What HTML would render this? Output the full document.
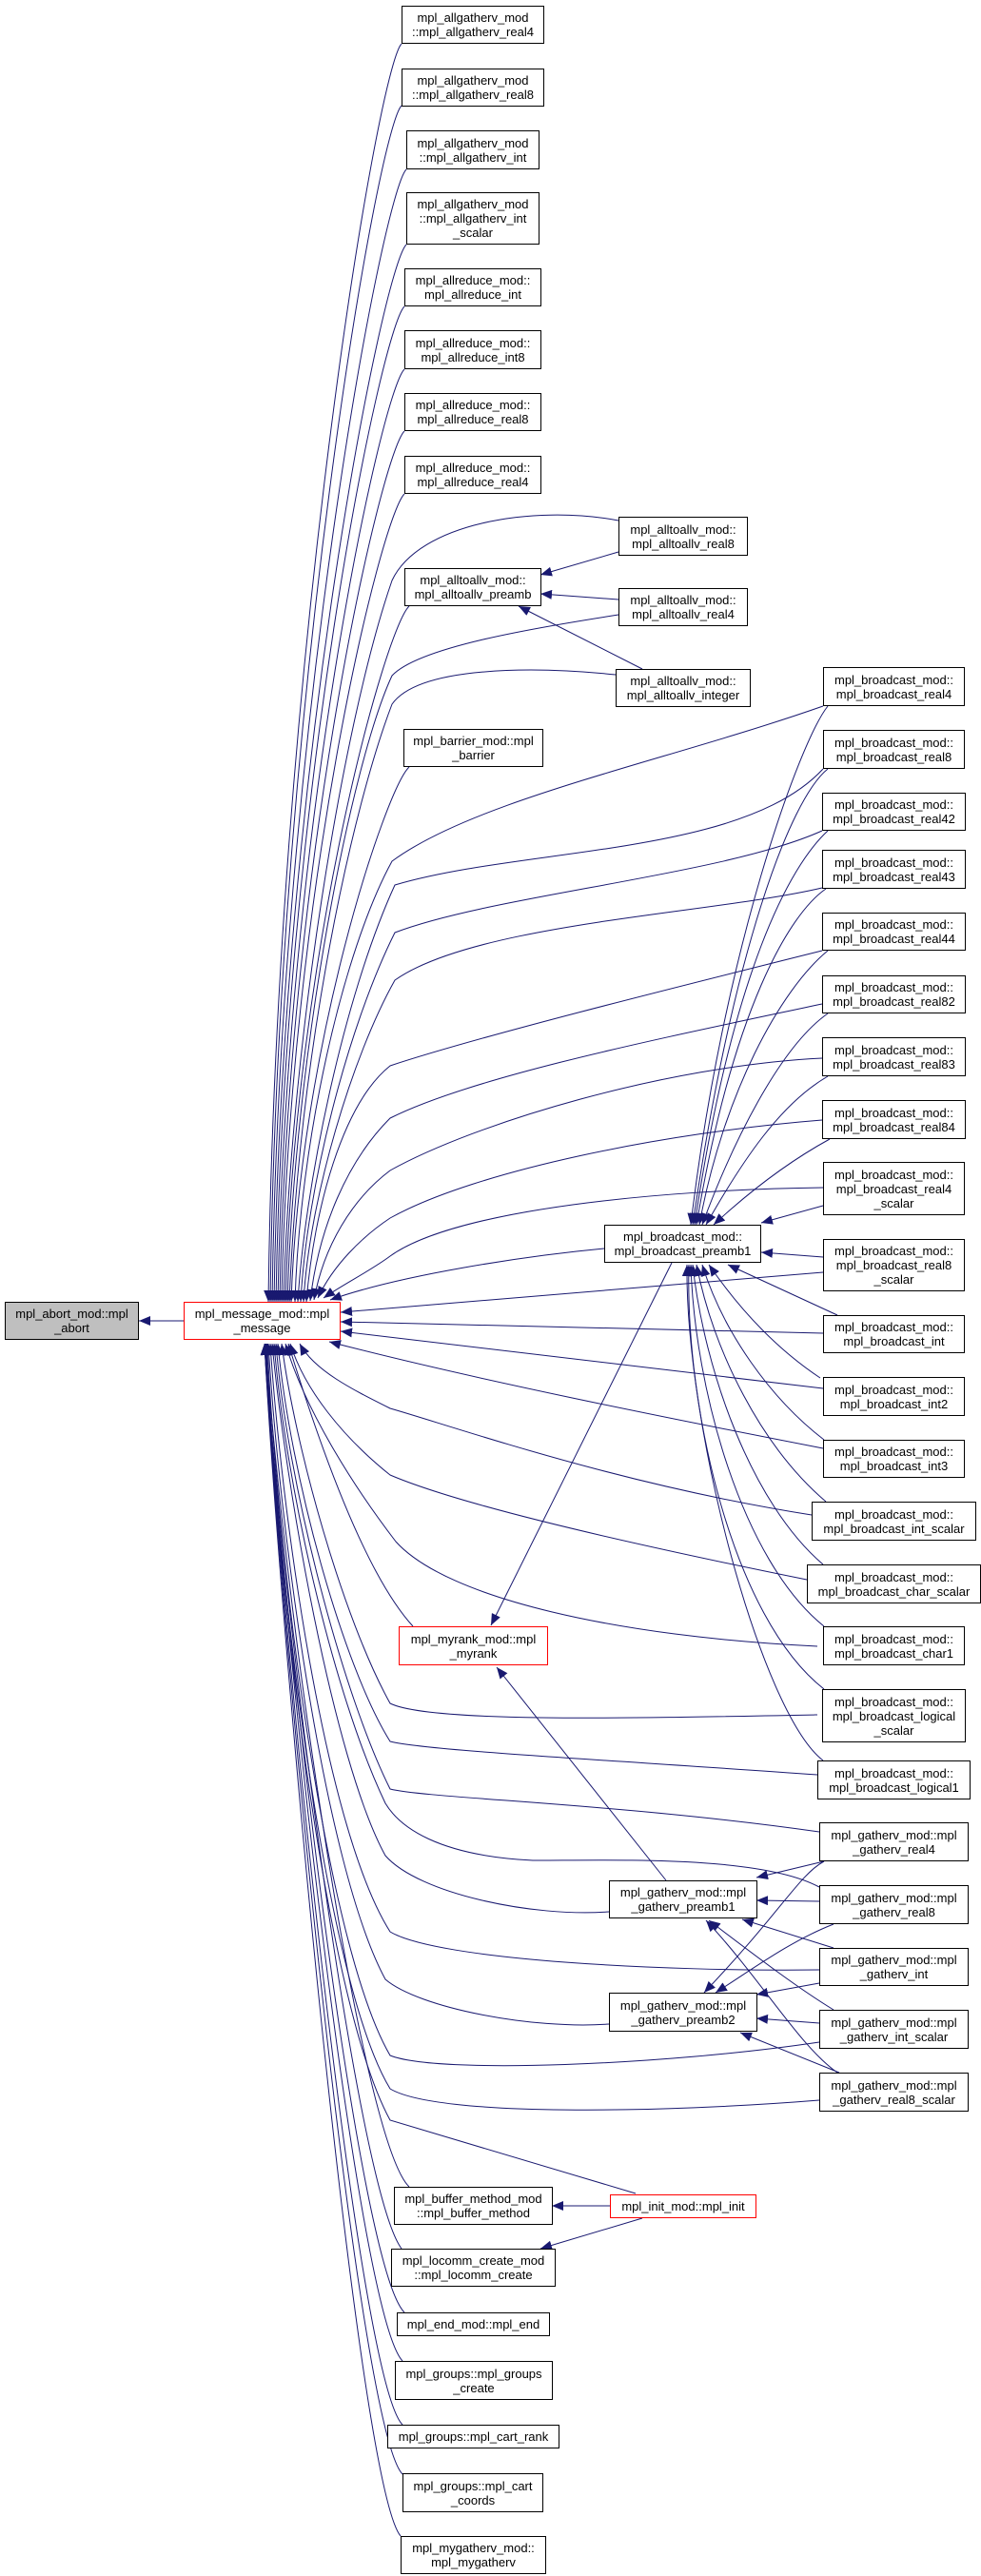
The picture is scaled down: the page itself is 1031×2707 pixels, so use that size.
<!DOCTYPE html>
<html><head><meta charset="utf-8"><style>
body{margin:0;background:#fff;width:1031px;height:2707px;position:relative;overflow:hidden;font-family:"Liberation Sans",Arial,sans-serif}
.n{position:absolute;box-sizing:border-box;border:1px solid #000;background:#fff;font-size:13px;line-height:15px;text-align:center;display:flex;align-items:center;justify-content:center;white-space:nowrap;color:#000}
.r{border-color:#f00}
svg{position:absolute;left:0;top:0}
</style></head><body>
<svg width="1031" height="2707" viewBox="0 0 1031 2707">
<defs><marker id="a" markerWidth="12" markerHeight="10" refX="12" refY="5" orient="auto" markerUnits="userSpaceOnUse"><path d="M0,0 L12,5 L0,10z" fill="#191970"/></marker></defs>
<g fill="none" stroke="#191970" stroke-width="1" marker-end="url(#a)">
<path d="M193,1388 L146,1388"/>
<path d="M422,46 C397,71 290,708 282,1368"/>
<path d="M422,111 C397,136 292,740 284,1368"/>
<path d="M427,178 C402,203 294,774 286,1368"/>
<path d="M427,257 C402,282 296,813 288,1368"/>
<path d="M425,322 C400,347 298,845 290,1368"/>
<path d="M425,388 C400,413 300,880 292,1368"/>
<path d="M425,453 C400,478 302,910 294,1368"/>
<path d="M425,519 C400,544 304,940 296,1368"/>
<path d="M650,547 C560,530 440,550 412,610 C360,760 305,1100 298,1368"/>
<path d="M430,637 C405,660 310,1000 300,1368"/>
<path d="M650,646 C560,660 440,680 412,710 C370,800 310,1100 302,1368"/>
<path d="M647,709 C560,700 440,700 412,740 C370,850 315,1100 304,1368"/>
<path d="M430,806 C405,830 315,1100 306,1368"/>
<path d="M865,742 C700,800 500,840 412,905 C360,1000 315,1200 310,1368"/>
<path d="M865,808 C780,900 550,890 415,930 C360,1050 320,1250 313,1368"/>
<path d="M864,873 C760,920 520,940 415,980 C365,1080 322,1250 316,1368"/>
<path d="M864,933 C750,960 500,970 415,1030 C370,1110 325,1260 319,1368"/>
<path d="M864,999 C700,1040 500,1090 410,1120 C360,1160 330,1270 322,1368"/>
<path d="M864,1055 C700,1090 500,1130 410,1175 C365,1220 335,1290 326,1367"/>
<path d="M864,1112 C700,1120 500,1180 410,1230 C370,1260 340,1310 330,1366"/>
<path d="M864,1177 C700,1190 500,1230 410,1280 C380,1300 350,1330 334,1364"/>
<path d="M865,1248 C700,1250 480,1270 410,1320 C390,1335 360,1350 340,1364"/>
<path d="M635,1312 C550,1320 420,1340 347,1366"/>
<path d="M865,1337 L358,1379"/>
<path d="M865,1401 L358,1389"/>
<path d="M865,1459 L358,1399"/>
<path d="M865,1522 C700,1490 500,1450 346,1410"/>
<path d="M853,1592 C650,1560 480,1500 410,1480 C370,1460 330,1440 315,1412"/>
<path d="M848,1660 C650,1620 480,1580 410,1550 C360,1510 320,1460 305,1412"/>
<path d="M859,1730 C650,1720 470,1680 416,1620 C370,1560 320,1480 300,1412"/>
<path d="M859,1802 C650,1806 450,1810 410,1790 C360,1700 310,1520 296,1412"/>
<path d="M859,1865 C650,1850 450,1840 410,1830 C360,1750 305,1550 292,1412"/>
<path d="M861,1925 C650,1895 450,1890 410,1880 C360,1780 302,1560 290,1412"/>
<path d="M861,1983 C800,1950 650,1955 560,1955 C460,1950 420,1920 405,1895 C350,1780 300,1560 288,1412"/>
<path d="M640,2009 C560,2015 440,1990 405,1950 C350,1850 300,1560 286,1412"/>
<path d="M861,2070 C700,2072 460,2060 410,2030 C340,1920 295,1580 284,1412"/>
<path d="M640,2127 C560,2133 440,2110 405,2080 C340,1960 293,1600 282,1412"/>
<path d="M861,2146 C700,2170 460,2180 410,2160 C340,2040 290,1620 281,1412"/>
<path d="M861,2207 C700,2220 460,2225 410,2195 C340,2080 290,1640 280,1412"/>
<path d="M668,2305 L410,2228 C340,2100 290,1650 279,1412"/>
<path d="M430,2298 C380,2250 300,1700 279,1412"/>
<path d="M422,2363 C375,2300 298,1700 278,1412"/>
<path d="M425,2430 C375,2380 297,1700 278,1412"/>
<path d="M423,2481 C375,2430 296,1700 278,1412"/>
<path d="M423,2548 C375,2500 295,1700 278,1412"/>
<path d="M423,2600 C375,2550 294,1700 278,1412"/>
<path d="M421,2665 C375,2610 293,1700 278,1412"/>
<path d="M434,1709 C380,1650 330,1500 303,1412"/>
<path d="M650,580 L568,604"/>
<path d="M650,630 L568,624"/>
<path d="M675,703 L545,637"/>
<path d="M870,742 C840,780 760,1000 726,1287"/>
<path d="M870,808 C830,840 770,1000 728,1287"/>
<path d="M870,873 C830,910 770,1020 730,1287"/>
<path d="M868,934 C830,960 770,1060 732,1287"/>
<path d="M870,999 C820,1040 760,1150 735,1287"/>
<path d="M870,1065 C820,1100 770,1200 738,1287"/>
<path d="M870,1131 C820,1160 780,1220 742,1287"/>
<path d="M872,1197 C830,1220 790,1250 750,1287"/>
<path d="M865,1267 L800,1285"/>
<path d="M865,1321 L800,1316"/>
<path d="M880,1382 L765,1329"/>
<path d="M862,1448 C820,1420 780,1380 745,1329"/>
<path d="M866,1513 C810,1470 760,1400 738,1329"/>
<path d="M868,1578 C800,1520 750,1420 732,1329"/>
<path d="M865,1644 C790,1580 740,1440 728,1329"/>
<path d="M866,1709 C780,1640 730,1460 726,1329"/>
<path d="M866,1775 C770,1700 720,1480 724,1329"/>
<path d="M865,1850 C800,1800 720,1500 722,1329"/>
<path d="M706,1327 L516,1708"/>
<path d="M700,1976 L522,1752"/>
<path d="M866,1956 L795,1973"/>
<path d="M861,1998 L795,1997"/>
<path d="M876,2047 L780,2017"/>
<path d="M876,2112 C840,2090 800,2060 745,2018"/>
<path d="M880,2178 C840,2150 800,2080 742,2018"/>
<path d="M866,1956 C840,1970 820,2010 740,2094"/>
<path d="M876,2022 C830,2040 790,2070 752,2094"/>
<path d="M861,2084 L795,2096"/>
<path d="M861,2126 L795,2121"/>
<path d="M882,2178 L778,2136"/>
<path d="M641,2318 L580,2318"/>
<path d="M675,2331 L568,2363"/>
</g>
</svg>
<div class="n" style="left:5px;top:1368px;width:141px;height:40px;background:#bfbfbf">mpl_abort_mod::mpl<br>_abort</div>
<div class="n r" style="left:193px;top:1368px;width:165px;height:40px">mpl_message_mod::mpl<br>_message</div>
<div class="n" style="left:422px;top:6px;width:150px;height:40px">mpl_allgatherv_mod<br>::mpl_allgatherv_real4</div>
<div class="n" style="left:422px;top:72px;width:150px;height:40px">mpl_allgatherv_mod<br>::mpl_allgatherv_real8</div>
<div class="n" style="left:427px;top:137px;width:140px;height:41px">mpl_allgatherv_mod<br>::mpl_allgatherv_int</div>
<div class="n" style="left:427px;top:202px;width:140px;height:55px">mpl_allgatherv_mod<br>::mpl_allgatherv_int<br>_scalar</div>
<div class="n" style="left:425px;top:282px;width:144px;height:40px">mpl_allreduce_mod::<br>mpl_allreduce_int</div>
<div class="n" style="left:425px;top:347px;width:144px;height:41px">mpl_allreduce_mod::<br>mpl_allreduce_int8</div>
<div class="n" style="left:425px;top:413px;width:144px;height:40px">mpl_allreduce_mod::<br>mpl_allreduce_real8</div>
<div class="n" style="left:425px;top:479px;width:144px;height:40px">mpl_allreduce_mod::<br>mpl_allreduce_real4</div>
<div class="n" style="left:650px;top:543px;width:136px;height:41px">mpl_alltoallv_mod::<br>mpl_alltoallv_real8</div>
<div class="n" style="left:425px;top:597px;width:144px;height:40px">mpl_alltoallv_mod::<br>mpl_alltoallv_preamb</div>
<div class="n" style="left:650px;top:618px;width:136px;height:40px">mpl_alltoallv_mod::<br>mpl_alltoallv_real4</div>
<div class="n" style="left:647px;top:703px;width:142px;height:40px">mpl_alltoallv_mod::<br>mpl_alltoallv_integer</div>
<div class="n" style="left:424px;top:766px;width:147px;height:40px">mpl_barrier_mod::mpl<br>_barrier</div>
<div class="n" style="left:865px;top:701px;width:149px;height:41px">mpl_broadcast_mod::<br>mpl_broadcast_real4</div>
<div class="n" style="left:865px;top:767px;width:149px;height:41px">mpl_broadcast_mod::<br>mpl_broadcast_real8</div>
<div class="n" style="left:864px;top:833px;width:151px;height:40px">mpl_broadcast_mod::<br>mpl_broadcast_real42</div>
<div class="n" style="left:864px;top:893px;width:151px;height:41px">mpl_broadcast_mod::<br>mpl_broadcast_real43</div>
<div class="n" style="left:864px;top:959px;width:151px;height:40px">mpl_broadcast_mod::<br>mpl_broadcast_real44</div>
<div class="n" style="left:864px;top:1025px;width:151px;height:40px">mpl_broadcast_mod::<br>mpl_broadcast_real82</div>
<div class="n" style="left:864px;top:1090px;width:151px;height:41px">mpl_broadcast_mod::<br>mpl_broadcast_real83</div>
<div class="n" style="left:864px;top:1156px;width:151px;height:41px">mpl_broadcast_mod::<br>mpl_broadcast_real84</div>
<div class="n" style="left:865px;top:1221px;width:149px;height:56px">mpl_broadcast_mod::<br>mpl_broadcast_real4<br>_scalar</div>
<div class="n" style="left:635px;top:1287px;width:165px;height:40px">mpl_broadcast_mod::<br>mpl_broadcast_preamb1</div>
<div class="n" style="left:865px;top:1302px;width:149px;height:55px">mpl_broadcast_mod::<br>mpl_broadcast_real8<br>_scalar</div>
<div class="n" style="left:865px;top:1382px;width:149px;height:40px">mpl_broadcast_mod::<br>mpl_broadcast_int</div>
<div class="n" style="left:865px;top:1447px;width:149px;height:41px">mpl_broadcast_mod::<br>mpl_broadcast_int2</div>
<div class="n" style="left:865px;top:1513px;width:149px;height:40px">mpl_broadcast_mod::<br>mpl_broadcast_int3</div>
<div class="n" style="left:853px;top:1578px;width:173px;height:41px">mpl_broadcast_mod::<br>mpl_broadcast_int_scalar</div>
<div class="n" style="left:848px;top:1644px;width:183px;height:41px">mpl_broadcast_mod::<br>mpl_broadcast_char_scalar</div>
<div class="n" style="left:865px;top:1709px;width:149px;height:41px">mpl_broadcast_mod::<br>mpl_broadcast_char1</div>
<div class="n" style="left:864px;top:1775px;width:151px;height:56px">mpl_broadcast_mod::<br>mpl_broadcast_logical<br>_scalar</div>
<div class="n" style="left:859px;top:1850px;width:161px;height:41px">mpl_broadcast_mod::<br>mpl_broadcast_logical1</div>
<div class="n r" style="left:419px;top:1709px;width:157px;height:41px">mpl_myrank_mod::mpl<br>_myrank</div>
<div class="n" style="left:861px;top:1915px;width:157px;height:41px">mpl_gatherv_mod::mpl<br>_gatherv_real4</div>
<div class="n" style="left:640px;top:1976px;width:156px;height:40px">mpl_gatherv_mod::mpl<br>_gatherv_preamb1</div>
<div class="n" style="left:861px;top:1981px;width:157px;height:41px">mpl_gatherv_mod::mpl<br>_gatherv_real8</div>
<div class="n" style="left:861px;top:2047px;width:157px;height:40px">mpl_gatherv_mod::mpl<br>_gatherv_int</div>
<div class="n" style="left:640px;top:2094px;width:156px;height:41px">mpl_gatherv_mod::mpl<br>_gatherv_preamb2</div>
<div class="n" style="left:861px;top:2112px;width:157px;height:41px">mpl_gatherv_mod::mpl<br>_gatherv_int_scalar</div>
<div class="n" style="left:861px;top:2178px;width:157px;height:41px">mpl_gatherv_mod::mpl<br>_gatherv_real8_scalar</div>
<div class="n" style="left:414px;top:2298px;width:167px;height:40px">mpl_buffer_method_mod<br>::mpl_buffer_method</div>
<div class="n r" style="left:641px;top:2306px;width:154px;height:25px">mpl_init_mod::mpl_init</div>
<div class="n" style="left:411px;top:2363px;width:173px;height:40px">mpl_locomm_create_mod<br>::mpl_locomm_create</div>
<div class="n" style="left:417px;top:2430px;width:161px;height:25px">mpl_end_mod::mpl_end</div>
<div class="n" style="left:415px;top:2481px;width:166px;height:41px">mpl_groups::mpl_groups<br>_create</div>
<div class="n" style="left:407px;top:2548px;width:181px;height:25px">mpl_groups::mpl_cart_rank</div>
<div class="n" style="left:423px;top:2599px;width:148px;height:41px">mpl_groups::mpl_cart<br>_coords</div>
<div class="n" style="left:421px;top:2665px;width:153px;height:40px">mpl_mygatherv_mod::<br>mpl_mygatherv</div>
</body></html>
